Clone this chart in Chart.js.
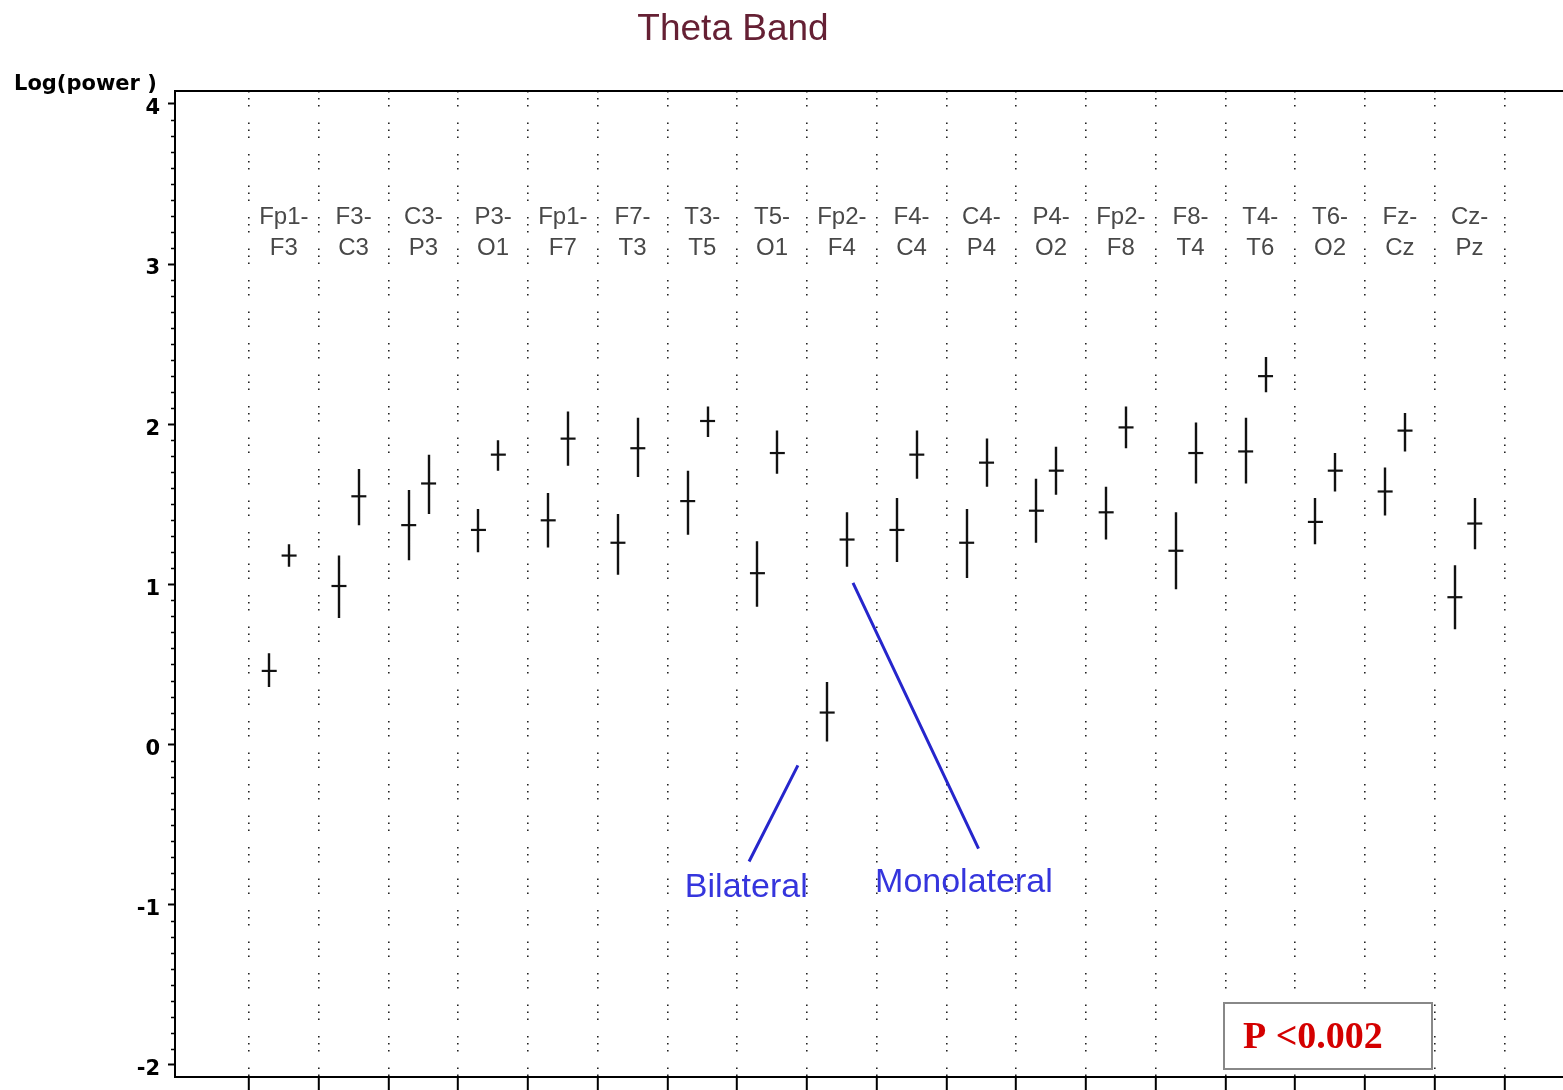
<!DOCTYPE html>
<html>
<head>
<meta charset="utf-8">
<script src="https://cdn.jsdelivr.net/npm/chart.js@4.4.1/dist/chart.umd.min.js"></script>
<style>
  html, body { margin: 0; padding: 0; background: #fff; }
  canvas { display: block; }
</style>
</head>
<body>
<canvas id="chart" width="1563" height="1090"></canvas>
<script>
// channel pairs, left to right
const channels = ['Fp1-F3', 'F3-C3', 'C3-P3', 'P3-O1', 'Fp1-F7', 'F7-T3', 'T3-T5', 'T5-O1',
  'Fp2-F4', 'F4-C4', 'C4-P4', 'P4-O2', 'Fp2-F8', 'F8-T4', 'T4-T6', 'T6-O2', 'Fz-Cz', 'Cz-Pz'];

// bilateral group (left mark of each pair)
const bilateralMean = [0.46, 0.99, 1.37, 1.34, 1.40, 1.26, 1.52, 1.07, 0.20, 1.34, 1.26, 1.46, 1.45, 1.21, 1.83, 1.39, 1.58, 0.92];
const bilateralLow  = [0.36, 0.79, 1.15, 1.20, 1.23, 1.06, 1.31, 0.86, 0.02, 1.14, 1.04, 1.26, 1.28, 0.97, 1.63, 1.25, 1.43, 0.72];
const bilateralHigh = [0.57, 1.18, 1.59, 1.47, 1.57, 1.44, 1.71, 1.27, 0.39, 1.54, 1.47, 1.66, 1.61, 1.45, 2.04, 1.54, 1.73, 1.12];

// monolateral group (right mark of each pair)
const monolateralMean = [1.18, 1.55, 1.63, 1.81, 1.91, 1.85, 2.02, 1.82, 1.28, 1.81, 1.76, 1.71, 1.98, 1.82, 2.30, 1.71, 1.96, 1.38];
const monolateralLow  = [1.11, 1.37, 1.44, 1.71, 1.74, 1.67, 1.92, 1.69, 1.11, 1.66, 1.61, 1.56, 1.85, 1.63, 2.20, 1.58, 1.83, 1.22];
const monolateralHigh = [1.25, 1.72, 1.81, 1.90, 2.08, 2.04, 2.11, 1.96, 1.45, 1.96, 1.91, 1.86, 2.11, 2.01, 2.42, 1.82, 2.07, 1.54];

const yTicks = [-2, -1, 0, 1, 2, 3, 4];
const xGrid = channels.map((c, i) => i).concat([channels.length]);

// offsets of the two marks inside each channel slot
const bilateralOffset = 0.29;
const monolateralOffset = 0.575;

function points(mean, offset) {
  return mean.map((v, i) => ({ x: i + offset, y: v }));
}

const errorBars = {
  id: 'errorBars',
  afterDatasetsDraw(chart) {
    const { ctx, scales: { x, y } } = chart;
    const groups = [
      [bilateralLow, bilateralHigh, bilateralOffset],
      [monolateralLow, monolateralHigh, monolateralOffset]
    ];
    ctx.save();
    ctx.strokeStyle = '#111';
    ctx.lineWidth = 2.4;
    ctx.beginPath();
    for (const [lo, hi, off] of groups) {
      lo.forEach((v, i) => {
        const px = Math.round(x.getPixelForValue(i + off));
        ctx.moveTo(px, y.getPixelForValue(v));
        ctx.lineTo(px, y.getPixelForValue(hi[i]));
      });
    }
    ctx.stroke();
    ctx.restore();
  }
};

const decor = {
  id: 'decor',
  beforeDraw(chart) {
    const { ctx } = chart;
    ctx.save();
    ctx.fillStyle = '#fff';
    ctx.fillRect(0, 0, chart.width, chart.height);
    ctx.restore();
  },
  afterDraw(chart) {
    const { ctx, chartArea: a, scales: { x, y } } = chart;
    ctx.save();

    // frame
    ctx.strokeStyle = '#000';
    ctx.lineWidth = 2;
    ctx.beginPath();
    ctx.moveTo(chart.width, a.top);
    ctx.lineTo(a.left, a.top);
    ctx.lineTo(a.left, a.bottom);
    ctx.lineTo(chart.width, a.bottom);
    ctx.stroke();

    // minor ticks on the y axis
    ctx.lineWidth = 1.5;
    ctx.beginPath();
    for (let k = -20; k <= 40; k++) {
      if (k % 10 === 0) continue;
      const py = Math.round(y.getPixelForValue(k / 10)) + 0.5;
      ctx.moveTo(a.left - 4, py);
      ctx.lineTo(a.left, py);
    }
    ctx.stroke();

    // title
    ctx.fillStyle = '#652034';
    ctx.font = '37px "Liberation Sans", Arial, sans-serif';
    ctx.textAlign = 'center';
    ctx.textBaseline = 'middle';
    ctx.fillText('Theta Band', 733, 30);

    // y axis name
    ctx.fillStyle = '#000';
    ctx.font = 'bold 21px "DejaVu Sans", sans-serif';
    ctx.textAlign = 'left';
    ctx.fillText('Log(power )', 14, 85);

    // channel names
    ctx.fillStyle = '#484848';
    ctx.font = '24px "Liberation Sans", Arial, sans-serif';
    ctx.textAlign = 'center';
    channels.forEach((c, i) => {
      const [p1, p2] = c.split('-');
      const px = x.getPixelForValue(i + 0.5);
      ctx.fillText(p1 + '-', px, y.getPixelForValue(3.29));
      ctx.fillText(p2, px, y.getPixelForValue(3.1));
    });

    // group pointers
    ctx.strokeStyle = '#2626cc';
    ctx.lineWidth = 3;
    ctx.beginPath();
    ctx.moveTo(x.getPixelForValue(7.87), y.getPixelForValue(-0.13));
    ctx.lineTo(x.getPixelForValue(7.17), y.getPixelForValue(-0.73));
    ctx.moveTo(x.getPixelForValue(8.66), y.getPixelForValue(1.01));
    ctx.lineTo(x.getPixelForValue(10.46), y.getPixelForValue(-0.65));
    ctx.stroke();

    ctx.fillStyle = '#3535dd';
    ctx.font = '34px "Liberation Sans", Arial, sans-serif';
    ctx.fillText('Bilateral', x.getPixelForValue(7.13), y.getPixelForValue(-0.89));
    ctx.fillText('Monolateral', x.getPixelForValue(10.25), y.getPixelForValue(-0.86));

    // p-value box
    ctx.fillStyle = '#fff';
    ctx.fillRect(1224, 1003, 208, 66);
    ctx.strokeStyle = '#888';
    ctx.lineWidth = 2;
    ctx.strokeRect(1224, 1003, 208, 66);
    ctx.fillStyle = '#d40000';
    ctx.font = 'bold 38px "Liberation Serif", "Times New Roman", serif';
    ctx.textAlign = 'left';
    ctx.fillText('P <0.002', 1243, 1038);

    ctx.restore();
  }
};

new Chart(document.getElementById('chart'), {
  type: 'scatter',
  data: {
    datasets: [
      {
        label: 'Bilateral',
        data: points(bilateralMean, bilateralOffset),
        pointStyle: 'line',
        pointRadius: 7.5,
        pointHoverRadius: 7.5,
        borderWidth: 2.2,
        borderColor: '#111',
        backgroundColor: '#111'
      },
      {
        label: 'Monolateral',
        data: points(monolateralMean, monolateralOffset),
        pointStyle: 'line',
        pointRadius: 7.5,
        pointHoverRadius: 7.5,
        borderWidth: 2.2,
        borderColor: '#111',
        backgroundColor: '#111'
      }
    ]
  },
  options: {
    responsive: false,
    animation: false,
    layout: { autoPadding: false, padding: { top: 91, left: 0, right: 0, bottom: 0 } },
    plugins: {
      legend: { display: false },
      tooltip: { enabled: false }
    },
    scales: {
      x: {
        type: 'linear',
        min: -1.061,
        max: 18.84,
        afterBuildTicks(s) { s.ticks = xGrid.map(v => ({ value: v })); },
        afterFit(s) { s.height = 13; s.paddingLeft = 0; s.paddingRight = 0; },
        ticks: { display: false },
        grid: {
          color: '#222',
          lineWidth: 1.6,
          drawTicks: true,
          tickLength: 13,
          tickColor: '#000',
          tickWidth: 2,
          tickBorderDash: []
        },
        border: { display: false, dash: [1.5, 5.5, 1.5, 5.5, 1.5, 16] }
      },
      y: {
        type: 'linear',
        min: -2.075,
        max: 4.08,
        afterBuildTicks(s) { s.ticks = yTicks.map(v => ({ value: v })); },
        afterFit(s) { s.width = 175; s.paddingTop = 0; s.paddingBottom = 0; },
        ticks: {
          color: '#000',
          font: { family: '"DejaVu Sans", sans-serif', size: 21, weight: 'bold' },
          padding: 8,
          labelOffset: 5
        },
        grid: {
          drawOnChartArea: false,
          drawTicks: true,
          tickLength: 7,
          tickColor: '#000',
          tickWidth: 2
        },
        border: { display: false }
      }
    }
  },
  plugins: [errorBars, decor]
});
</script>
</body>
</html>
